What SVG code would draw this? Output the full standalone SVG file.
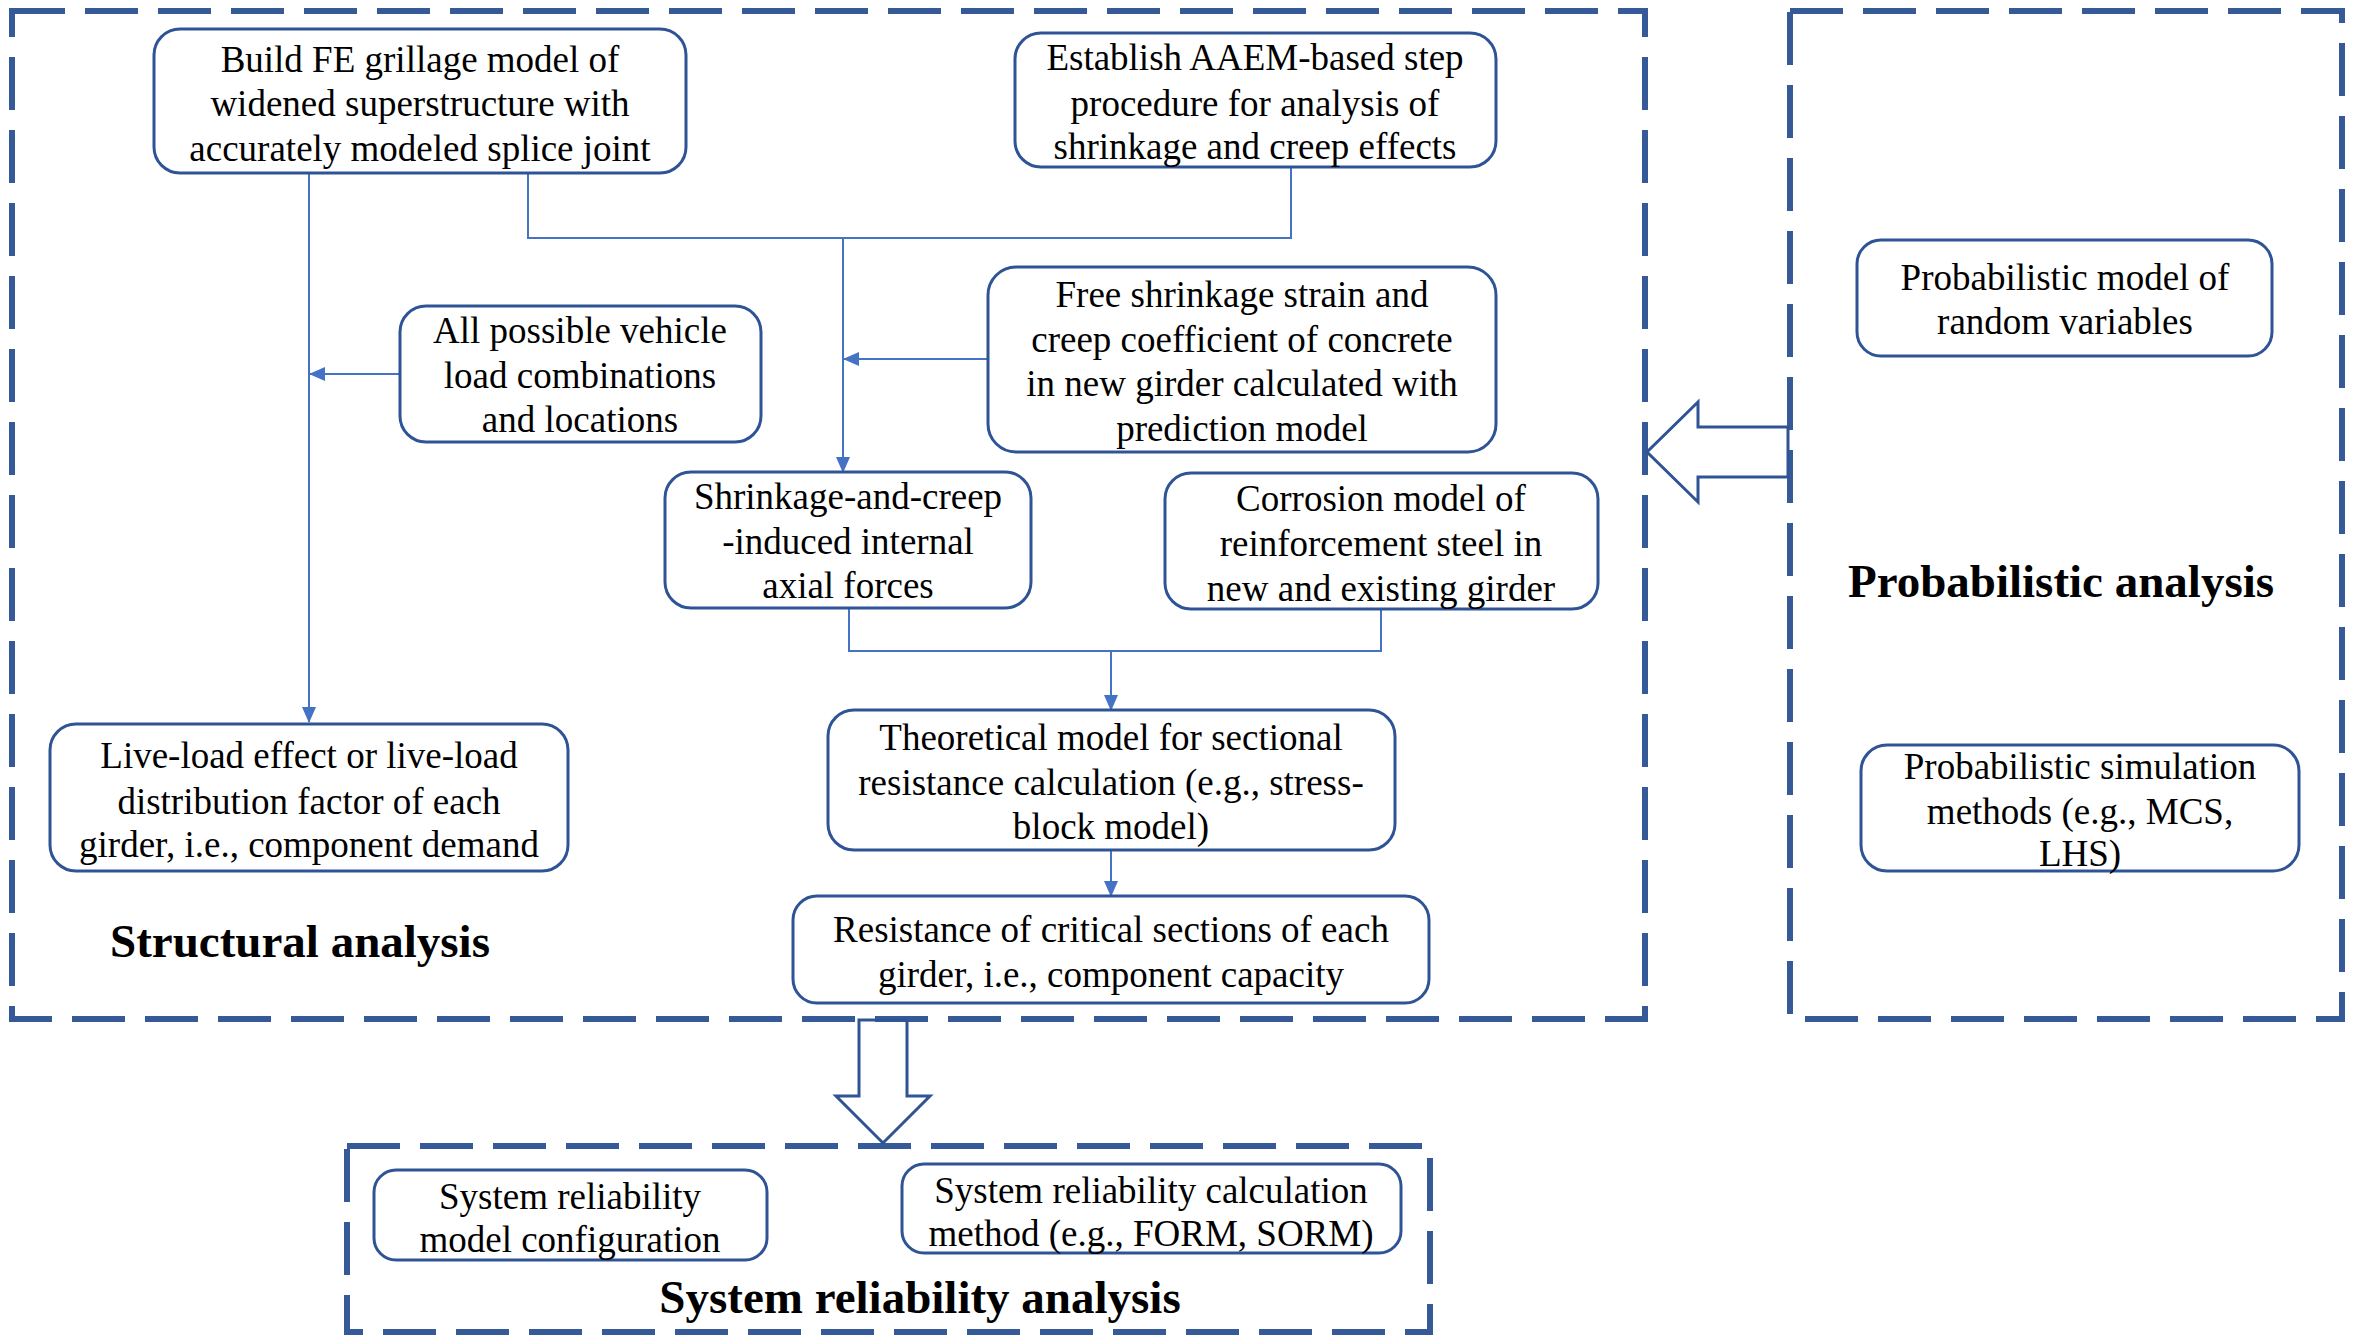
<svg xmlns="http://www.w3.org/2000/svg" width="2364" height="1336" viewBox="0 0 2364 1336">
<defs>
<style>
.t{font-family:"Liberation Serif","Times New Roman",serif;font-size:37px;fill:#000;text-anchor:middle}
.h{font-family:"Liberation Serif","Times New Roman",serif;font-size:47px;font-weight:bold;fill:#000;text-anchor:middle}
.n{fill:#fff;stroke:#2F5496;stroke-width:3}
.grp{fill:none;stroke:#365A97;stroke-width:6;stroke-dasharray:53 20}
.c{fill:none;stroke:#4472C4;stroke-width:2}
.blk{fill:none;stroke:#2F5496;stroke-width:3;stroke-linejoin:miter}
</style>
<marker id="ah" markerUnits="userSpaceOnUse" markerWidth="16" markerHeight="14" refX="15" refY="7" orient="auto">
<path d="M0,0 L16,7 L0,14 Z" fill="#4472C4"/>
</marker>
</defs>
<rect width="2364" height="1336" fill="#fff"/>

<g id="groups">
<rect id="structural-analysis" class="grp" x="12" y="11" width="1633" height="1008"/>
<rect id="probabilistic-analysis" class="grp" x="1790" y="11" width="552" height="1008"/>
<rect id="system-reliability-analysis" class="grp" x="347" y="1146" width="1083" height="186"/>
</g>

<g id="connectors">
<line class="c" x1="309" y1="173" x2="309" y2="722" marker-end="url(#ah)"/>
<line class="c" x1="400" y1="374" x2="310" y2="374" marker-end="url(#ah)"/>
<polyline class="c" points="528,173 528,238 1291,238 1291,167"/>
<line class="c" x1="843" y1="238" x2="843" y2="472" marker-end="url(#ah)"/>
<line class="c" x1="988" y1="359" x2="844" y2="359" marker-end="url(#ah)"/>
<polyline class="c" points="849,608 849,651 1381,651 1381,609"/>
<line class="c" x1="1111" y1="651" x2="1111" y2="710" marker-end="url(#ah)"/>
<line class="c" x1="1111" y1="850" x2="1111" y2="896" marker-end="url(#ah)"/>
<polygon class="blk" points="1788,427 1698,427 1698,402 1647,452 1698,502 1698,477 1788,477"/>
<polygon class="blk" points="859,1020 907,1020 907,1096 930,1096 883,1143 836,1096 859,1096"/>
</g>

<g id="node-build-fe">
<rect class="n" x="154" y="29" width="532" height="144" rx="26"/>
<text class="t" x="420" y="72">Build FE grillage model of</text>
<text class="t" x="420" y="116">widened superstructure with</text>
<text class="t" x="420" y="161">accurately modeled splice joint</text>
</g>

<g id="node-aaem">
<rect class="n" x="1015" y="33" width="481" height="134" rx="26"/>
<text class="t" x="1255" y="70">Establish AAEM-based step</text>
<text class="t" x="1255" y="116">procedure for analysis of</text>
<text class="t" x="1255" y="159">shrinkage and creep effects</text>
</g>

<g id="node-vehicle-load">
<rect class="n" x="400" y="306" width="361" height="136" rx="26"/>
<text class="t" x="580" y="343">All possible vehicle</text>
<text class="t" x="580" y="388">load combinations</text>
<text class="t" x="580" y="432">and locations</text>
</g>

<g id="node-free-shrinkage">
<rect class="n" x="988" y="267" width="508" height="185" rx="28"/>
<text class="t" x="1242" y="307">Free shrinkage strain and</text>
<text class="t" x="1242" y="352">creep coefficient of concrete</text>
<text class="t" x="1242" y="396">in new girder calculated with</text>
<text class="t" x="1242" y="441">prediction model</text>
</g>

<g id="node-axial-forces">
<rect class="n" x="665" y="472" width="366" height="136" rx="26"/>
<text class="t" x="848" y="509">Shrinkage-and-creep</text>
<text class="t" x="848" y="554">-induced internal</text>
<text class="t" x="848" y="598">axial forces</text>
</g>

<g id="node-corrosion">
<rect class="n" x="1165" y="473" width="433" height="136" rx="26"/>
<text class="t" x="1381" y="511">Corrosion model of</text>
<text class="t" x="1381" y="556">reinforcement steel in</text>
<text class="t" x="1381" y="601">new and existing girder</text>
</g>

<g id="node-live-load">
<rect class="n" x="50" y="724" width="518" height="147" rx="26"/>
<text class="t" x="309" y="768">Live-load effect or live-load</text>
<text class="t" x="309" y="814">distribution factor of each</text>
<text class="t" x="309" y="857">girder, i.e., component demand</text>
</g>

<g id="node-theoretical">
<rect class="n" x="828" y="710" width="567" height="140" rx="26"/>
<text class="t" x="1111" y="750">Theoretical model for sectional</text>
<text class="t" x="1111" y="795">resistance calculation (e.g., stress-</text>
<text class="t" x="1111" y="839">block model)</text>
</g>

<g id="node-resistance">
<rect class="n" x="793" y="896" width="636" height="107" rx="24"/>
<text class="t" x="1111" y="942">Resistance of critical sections of each</text>
<text class="t" x="1111" y="987">girder, i.e., component capacity</text>
</g>

<g id="node-prob-model">
<rect class="n" x="1857" y="240" width="415" height="116" rx="24"/>
<text class="t" x="2065" y="290">Probabilistic model of</text>
<text class="t" x="2065" y="334">random variables</text>
</g>

<g id="node-prob-simulation">
<rect class="n" x="1861" y="745" width="438" height="126" rx="26"/>
<text class="t" x="2080" y="779">Probabilistic simulation</text>
<text class="t" x="2080" y="824">methods (e.g., MCS,</text>
<text class="t" x="2080" y="866">LHS)</text>
</g>

<g id="node-sys-config">
<rect class="n" x="374" y="1170" width="393" height="90" rx="22"/>
<text class="t" x="570" y="1209">System reliability</text>
<text class="t" x="570" y="1252">model configuration</text>
</g>

<g id="node-sys-method">
<rect class="n" x="902" y="1164" width="499" height="89" rx="22"/>
<text class="t" x="1151" y="1203">System reliability calculation</text>
<text class="t" x="1151" y="1246">method (e.g., FORM, SORM)</text>
</g>

<g id="titles">
<text class="h" x="300" y="957">Structural analysis</text>
<text class="h" x="2061" y="597">Probabilistic analysis</text>
<text class="h" x="920" y="1313">System reliability analysis</text>
</g>
</svg>
